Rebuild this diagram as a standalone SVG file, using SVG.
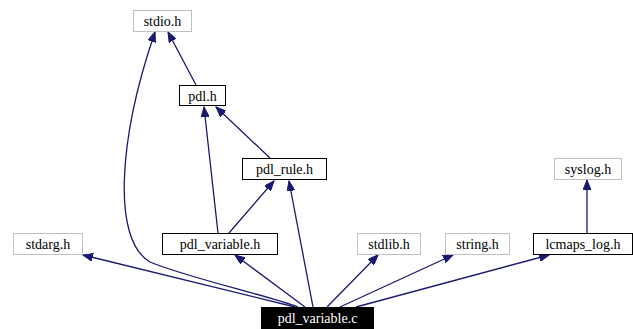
<svg xmlns="http://www.w3.org/2000/svg" width="633" height="329" viewBox="0 0 633 329">
<style>
.box{fill:#fff;stroke:#000;stroke-width:1}
.ext{fill:#fff;stroke:#bfbfbf;stroke-width:1}
.main{fill:#000;stroke:#000}
text{font-family:"Liberation Serif","Times New Roman",serif;font-size:14px;text-anchor:middle}
.w{fill:#fff}
.e{fill:none;stroke:#191970;stroke-width:1.3;marker-end:url(#a)}
</style>
<defs>
<marker id="a" markerWidth="11" markerHeight="8" refX="10" refY="4" orient="auto" markerUnits="userSpaceOnUse">
<path d="M0,0 L10,4 L0,8 Z" fill="#191970" stroke="#191970" stroke-width="1"/>
</marker>
</defs>
<g id="edges">
<path class="e" d="M298,307 C270,296 185,277 150,262 C112,240 118,140 155,32"/>
<path class="e" d="M196,85 L168,32"/>
<path class="e" d="M270,158 L216,107"/>
<path class="e" d="M218,233 L204,107"/>
<path class="e" d="M229,233 L274,181"/>
<path class="e" d="M313,307 L289,181"/>
<path class="e" d="M295,307 L83,255"/>
<path class="e" d="M305,307 L235,255"/>
<path class="e" d="M327,307 L378,255"/>
<path class="e" d="M340,307 L453,255"/>
<path class="e" d="M356,307 L549,255"/>
<path class="e" d="M587,233 L587,180"/>
</g>
<g id="stdio"><rect class="ext" x="133.5" y="10.5" width="58" height="21"/><text x="162.5" y="25.5">stdio.h</text></g>
<g id="pdl"><rect class="box" x="179.5" y="85.5" width="46" height="20"/><text x="202.5" y="100.5">pdl.h</text></g>
<g id="pdl_rule"><rect class="box" x="242.5" y="158.5" width="84" height="21"/><text x="284.5" y="174">pdl_rule.h</text></g>
<g id="pdl_variable_h"><rect class="box" x="162.5" y="233.5" width="115" height="21"/><text x="220" y="249">pdl_variable.h</text></g>
<g id="stdarg"><rect class="ext" x="13.5" y="233.5" width="69" height="21"/><text x="48" y="249">stdarg.h</text></g>
<g id="stdlib"><rect class="ext" x="357.5" y="233.5" width="63" height="21"/><text x="389" y="249">stdlib.h</text></g>
<g id="string"><rect class="ext" x="445.5" y="233.5" width="64" height="21"/><text x="477.5" y="249">string.h</text></g>
<g id="lcmaps_log"><rect class="box" x="533.5" y="233.5" width="99" height="21"/><text x="583" y="249">lcmaps_log.h</text></g>
<g id="syslog"><rect class="ext" x="554.5" y="158.5" width="67" height="21"/><text x="588" y="174">syslog.h</text></g>
<g id="pdl_variable_c"><rect class="main" x="261.5" y="307.5" width="112" height="21"/><text class="w" x="317.5" y="323">pdl_variable.c</text></g>
</svg>
